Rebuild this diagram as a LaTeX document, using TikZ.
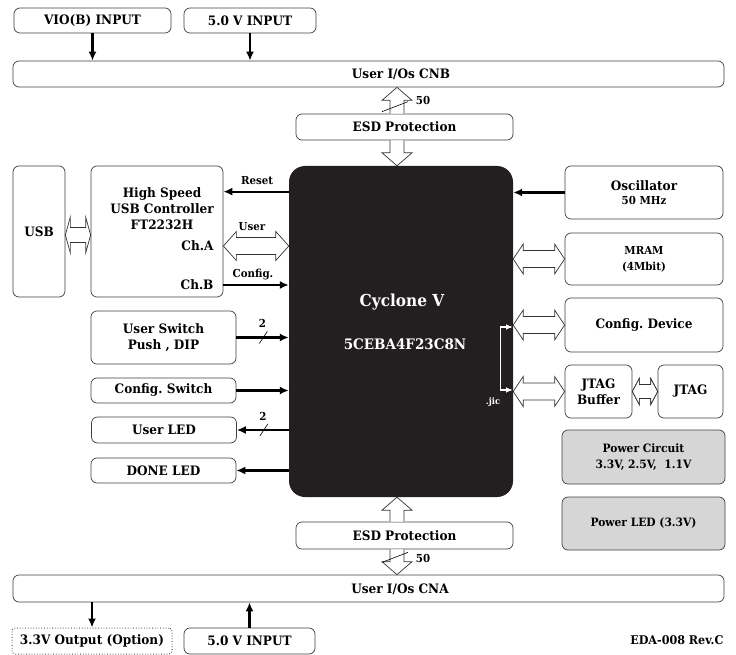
\documentclass[tikz,border=0pt]{standalone}
\usepackage{fontspec}
\setmainfont{DejaVu Serif}[FakeStretch=0.93]
\usetikzlibrary{calc,arrows.meta}
\definecolor{fpgablack}{HTML}{231F20}
\definecolor{pwrgray}{HTML}{D6D6D6}
\frenchspacing

\newcommand{\txtn}{\fontsize{13}{16}\selectfont\bfseries}
\newcommand{\txts}{\fontsize{11}{13}\selectfont\bfseries}
\newcommand{\txtm}{\fontsize{11.5}{14}\selectfont\bfseries}
\newcommand{\txtb}{\fontsize{16.5}{20}\selectfont\bfseries}
\newcommand{\txtt}{\fontsize{9}{10}\selectfont\bfseries}

% hollow arrow, vertical: tail, tip
\newcommand{\hollowv}[2]{%
  \draw[hollow] let \p1=(#1), \p2=(#2), \n1={sign(\y2-\y1)} in
    (\x1-7pt,\y1) -- (\x1-7pt,{\y2-(\n1)*13pt}) -- (\x1-15pt,{\y2-(\n1)*13pt}) -- (\x1,\y2)
    -- (\x1+15pt,{\y2-(\n1)*13pt}) -- (\x1+7pt,{\y2-(\n1)*13pt}) -- (\x1+7pt,\y1);}
% hollow double arrow, horizontal: left, right, shaft, head, head length
\newcommand{\hollowh}[5]{%
  \draw[hollow] let \p1=(#1), \p2=(#2) in
    (\x1,\y1) -- (\x1+#5,\y1+#4) -- (\x1+#5,\y1+#3) -- (\x2-#5,\y1+#3) -- (\x2-#5,\y1+#4)
    -- (\x2,\y1) -- (\x2-#5,\y1-#4) -- (\x2-#5,\y1-#3) -- (\x1+#5,\y1-#3) -- (\x1+#5,\y1-#4) -- cycle;}

\begin{document}
\begin{tikzpicture}[x=1pt,y=-1pt,font=\txtn,
  box/.style={draw=black!75, line width=0.7pt, rounded corners=6pt, fill=white, align=center, inner sep=0pt},
  graybox/.style={box, fill=pwrgray},
  fpga/.style={fill=fpgablack, rounded corners=16pt, inner sep=0pt},
  hollow/.style={draw=black!80, line width=0.7pt, fill=white},
  arr/.style={line width=2.2pt, -{Latex[length=9pt,width=8pt]}},
  bus/.style={line width=0.6pt}]
  \useasboundingbox (0,0) rectangle (736,655);

  % connector CNB
  \node[box, minimum width=157pt, minimum height=25pt] (vio) at (92.5,20.5) {VIO(B) INPUT};
  \node[box, minimum width=132pt, minimum height=25pt] (vint) at (250,20.5) {5.0 V INPUT};
  \node[box, minimum width=711pt, minimum height=26pt] (cnb) at (368.5,74) {};
  \node (cnbt) at (401,74) {User I/Os CNB};
  \draw[arr] (vio.south) -- (vio.south |- cnb.north);
  \draw[arr] (vint.south) -- (vint.south |- cnb.north);

  \node[box, minimum width=217pt, minimum height=26pt] (esdt) at (404.5,127) {ESD Protection};
  \node[fpga, minimum width=224pt, minimum height=331pt] (fpga) at (401,331.5) {};
  \node[white, font=\txtb] (fname) at (402,302) {Cyclone V};
  \node[white, font=\fontsize{14.5}{16}\selectfont\bfseries] (fpart) at (405,344) {5CEBA4F23C8N};

  \hollowv{$(esdt.north)+(-7.5,0)$}{$(esdt.north |- cnb.south)+(-7.5,0)$}
  \hollowv{$(esdt.south)+(-7.5,0)$}{$(esdt.south |- fpga.north)+(-7.5,0)$}
  \draw[bus] ($(esdt.north)+(-22.5,-2)$) -- ($(esdt.north)+(3.5,-12)$);
  \node[font=\txts] (n50t) at ($(esdt.north)+(18.5,-13)$) {50};

  % USB
  \node[box, minimum width=52pt, minimum height=131pt] (usb) at (39,231.5) {USB};
  \node[box, minimum width=132pt, minimum height=131pt] (usbc) at (157,231.5) {};
  \node[align=center] (usbct) at (162,209) {High Speed\\USB Controller\\FT2232H};
  \node[anchor=east] (cha) at (217,246) {Ch.A};
  \node[anchor=east] (chb) at (217,285) {Ch.B};
  \hollowh{$(usb.east)+(0,3.5)$}{$(usbc.west)+(0,3.5)$}{7.5pt}{18pt}{5pt}
  \draw[arr] ($(fpga.west |- usbc.north)+(0,26)$) -- ($(usbc.north east)+(0,26)$);
  \node[font=\txts] at (257,181) {Reset};
  \hollowh{usbc.east |- cha}{fpga.west |- cha}{8.5pt}{14.5pt}{13pt}
  \node[font=\txts] at (252,227) {User};
  \draw[arr] (usbc.east |- chb) -- (fpga.west |- chb);
  \node[font=\txts] at (253,275) {Config.};

  % switches and LEDs
  \node[box, minimum width=145pt, minimum height=53pt] (usw) at (163.5,337.5) {User Switch\\Push , DIP};
  \node[box, minimum width=145pt, minimum height=25pt] (csw) at (163.5,390.5) {Config. Switch};
  \node[box, minimum width=145pt, minimum height=26pt] (uled) at (164,430) {User LED};
  \node[box, minimum width=145pt, minimum height=25pt] (dled) at (163.5,470.5) {DONE LED};
  \foreach \bx in {usw,csw}
    \draw[arr] (\bx.east) -- (\bx.east -| fpga.west);
  \foreach \bx in {uled,dled}
    \draw[arr] (\bx.east -| fpga.west) -- (\bx.east);
  \foreach \bx in {usw,uled}{
    \draw[bus] ($(\bx.east)+(23,6)$) -- ($(\bx.east)+(31,-6)$);
    \node[font=\txts] at ($(\bx.east)+(26,-14)$) {2};
  }

  % right side
  \node[box, minimum width=158pt, minimum height=53pt] (osc) at (644,192.5) {Oscillator\\[-2pt]\txts 50 MHz};
  \node[box, minimum width=158pt, minimum height=52pt] (mram) at (644,259) {\txts MRAM\\\txts (4Mbit)};
  \node[box, minimum width=158pt, minimum height=54pt] (cfgdev) at (644,325) {Config. Device};
  \node[box, minimum width=67pt, minimum height=53pt] (jbuf) at (598.5,391.5) {JTAG\\Buffer};
  \node[box, minimum width=65pt, minimum height=53pt] (jtag) at (690.5,391.5) {JTAG};
  \draw[arr] (osc.west) -- (osc.west -| fpga.east);
  \foreach \bx in {mram,cfgdev,jbuf}
    \hollowh{fpga.east |- \bx}{\bx.west}{8.5pt}{15pt}{10pt}
  \hollowh{jbuf.east}{jtag.west}{7pt}{13pt}{7pt}
  \draw[white, line width=1.3pt, {Latex[length=6pt,width=5pt]}-{Latex[length=6pt,width=5pt]}]
    ($(fpga.east |- cfgdev)+(-1,2)$) -- ($(fpga.east |- cfgdev)+(-13,2)$)
    -- ($(fpga.east |- jbuf)+(-13,-1.5)$) -- ($(fpga.east |- jbuf)+(-1,-1.5)$);
  \node[white, font=\txtt] (jic) at (493,402) {.jic};

  \node[graybox, minimum width=163pt, minimum height=54pt] (pwr) at (643.5,457) {\txtm Power Circuit\\\txtm 3.3V, 2.5V,\ \ 1.1V};
  \node[graybox, minimum width=163pt, minimum height=53pt] (pled) at (643.5,523.5) {\txtm Power LED (3.3V)};

  % connector CNA
  \node[box, minimum width=217pt, minimum height=27pt] (esdb) at (404.5,535.5) {ESD Protection};
  \node[box, minimum width=711pt, minimum height=27pt] (cna) at (368.5,588.5) {};
  \node (cnat) at (400,589) {User I/Os CNA};
  \hollowv{$(esdb.north)+(-7.5,0)$}{$(esdb.north |- fpga.south)+(-7.5,0)$}
  \hollowv{$(esdb.south)+(-7.5,0)$}{$(esdb.south |- cna.north)+(-7.5,0)$}
  \draw[bus] ($(esdb.south)+(-22.5,13)$) -- ($(esdb.south)+(3.5,3)$);
  \node[font=\txts] (n50b) at ($(esdb.south)+(18.5,9)$) {50};

  \node[box, dotted, line width=1pt, rounded corners=3pt, minimum width=160pt, minimum height=26pt] (out) at (92,641) {3.3V Output (Option)};
  \node[box, minimum width=131pt, minimum height=26pt] (vinb) at (249.5,641) {5.0 V INPUT};
  \draw[arr] (out.north |- cna.south) -- (out.north);
  \draw[arr] (vinb.north) -- (vinb.north |- cna.south);
  \node[anchor=east, font=\fontsize{12}{14}\selectfont\bfseries] (rev) at (727,640) {EDA-008 Rev.C};
\end{tikzpicture}
\end{document}
